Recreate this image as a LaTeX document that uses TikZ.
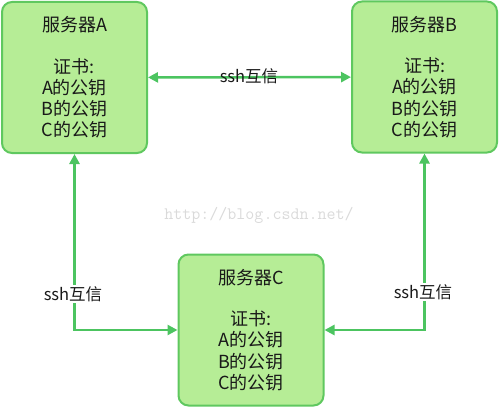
\documentclass[tikz,border=0pt]{standalone}
\usepackage{fontspec}
\setmainfont{Noto Sans CJK SC}
\usetikzlibrary{arrows.meta}
\definecolor{boxfill}{RGB}{182,237,150}
\definecolor{boxline}{RGB}{95,200,95}
\definecolor{conncol}{RGB}{76,196,96}
\definecolor{txtcol}{RGB}{25,25,25}
\definecolor{wmcol}{RGB}{218,218,218}
\tikzset{
  server/.style={draw=boxline, fill=boxfill, line width=2pt, rounded corners=10pt,
    minimum width=145pt, minimum height=151pt, align=center, text=txtcol,
    inner sep=0pt, font=\fontsize{18}{21.3}\selectfont},
  conn/.style={draw=conncol, line width=2.5pt,
    {Triangle[length=10pt,width=10pt]}-{Triangle[length=10pt,width=10pt]}},
  lab/.style={text=txtcol, inner sep=1pt, font=\fontsize{16.5}{19}\selectfont},
  wm/.style={text=wmcol, font=\ttfamily\fontsize{17.5}{20}\selectfont, inner sep=0pt}
}
\begin{document}
\begin{tikzpicture}[x=1pt,y=-1pt]
\useasboundingbox (0,0) rectangle (500,409);
\node[wm] (W) at (259,215) {http://blog.csdn.net/};
\node[server] (A) at (74.5,77.5) {服务器A\\[20pt]证书:\\A的公钥\\B的公钥\\C的公钥};
\node[server] (B) at (424.5,77) {服务器B\\[20pt]证书:\\A的公钥\\B的公钥\\C的公钥};
\node[server] (C) at (251,330) {服务器C\\[20pt]证书:\\A的公钥\\B的公钥\\C的公钥};
\draw[conn] (A) -- (B);
\draw[conn] (A.south) |- (C.west);
\draw[conn] (B.south) |- (C.east);
\node[lab] (L0) at (249,76) {ssh互信};
\node[lab, fill=white] (L1) at (73,294) {ssh互信};
\node[lab, fill=white] (L2) at (423,292) {ssh互信};
\end{tikzpicture}
\end{document}
